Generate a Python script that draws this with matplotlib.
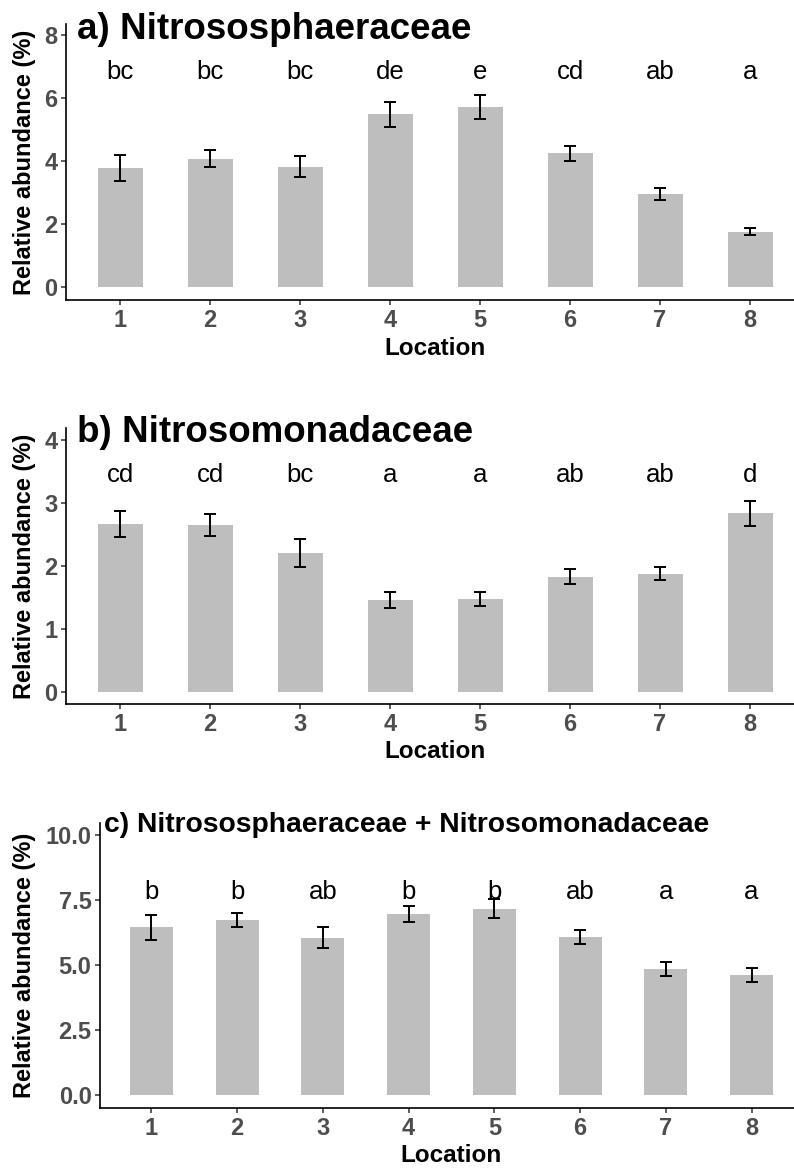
import numpy as np
import matplotlib
matplotlib.use('Agg')
import matplotlib.pyplot as plt

plt.rcParams['font.family'] = ['Liberation Sans', 'DejaVu Sans']

locations = [1, 2, 3, 4, 5, 6, 7, 8]

# a) Nitrososphaeraceae
mean_a = [3.79, 4.08, 3.82, 5.49, 5.72, 4.24, 2.95, 1.76]
se_a = [0.41, 0.28, 0.33, 0.40, 0.38, 0.25, 0.20, 0.12]
letters_a = ['bc', 'bc', 'bc', 'de', 'e', 'cd', 'ab', 'a']

# b) Nitrosomonadaceae
mean_b = [2.67, 2.65, 2.21, 1.46, 1.48, 1.83, 1.88, 2.84]
se_b = [0.21, 0.17, 0.22, 0.13, 0.11, 0.12, 0.10, 0.20]
letters_b = ['cd', 'cd', 'bc', 'a', 'a', 'ab', 'ab', 'd']

# c) sum of both
mean_c = [6.47, 6.73, 6.06, 6.96, 7.18, 6.10, 4.86, 4.63]
se_c = [0.48, 0.27, 0.40, 0.31, 0.37, 0.27, 0.27, 0.27]
letters_c = ['b', 'b', 'ab', 'b', 'b', 'ab', 'a', 'a']

W, H = 794, 1168
fig = plt.figure(figsize=(W/100, H/100), dpi=100)

def px(x, y):
    # pixel position (from top left) -> figure fraction
    return x/W, 1 - y/H

def panel(box, mean, se, letters, ylim, yticks, yfmt, letter_y,
          title, title_xy, title_size, ylab_x, xlab_y):
    left, top, right, bottom = box
    ax = fig.add_axes([left/W, 1 - bottom/H, (right-left)/W, (bottom-top)/H])
    x = np.array(locations)
    ax.bar(x, mean, width=0.5, color='#bebebe', zorder=1)
    ax.errorbar(x, mean, yerr=se, fmt='none', ecolor='black',
                elinewidth=1.4, capsize=4.5, capthick=1.4, zorder=2)
    for xi, lab in zip(x, letters):
        ax.text(xi, letter_y, lab, ha='center', va='baseline', fontsize=18.5)
    ax.set_xlim(0.4, 8.6)
    ax.set_ylim(*ylim)
    ax.set_xticks(x)
    ax.set_yticks(yticks)
    ax.set_yticklabels([yfmt % v for v in yticks])
    for s in ['top', 'right']:
        ax.spines[s].set_visible(False)
    for s in ['left', 'bottom']:
        ax.spines[s].set_linewidth(1.2)
    ax.tick_params(length=3.6, width=1.1, color='#333333',
                   labelcolor='#4d4d4d', labelsize=17)
    ax.tick_params(axis='x', pad=3)
    ax.tick_params(axis='y', pad=2.5)
    for t in ax.get_xticklabels() + ax.get_yticklabels():
        t.set_fontweight('bold')
    fig.text(*px(*title_xy), title, fontsize=title_size, fontweight='bold',
             ha='left', va='baseline')
    fig.text(*px(ylab_x, (top + bottom)/2), 'Relative abundance (%)',
             rotation=90, fontsize=17, fontweight='bold', ha='center', va='center')
    fig.text(*px((left + right)/2, xlab_y), 'Location', fontsize=17.5,
             fontweight='bold', ha='center', va='center')
    return ax

panel((66, 24, 804, 300), mean_a, se_a, letters_a, (-0.41, 8.35),
      [0, 2, 4, 6, 8], '%d', 6.62,
      'a) Nitrososphaeraceae', (77, 39), 26.5, 25, 349)

panel((66, 428, 804, 704), mean_b, se_b, letters_b, (-0.185, 4.19),
      [0, 1, 2, 3, 4], '%d', 3.34,
      'b) Nitrosomonadaceae', (77, 442), 26.5, 25, 752)

panel((100, 823, 803, 1108), mean_c, se_c, letters_c, (-0.5, 10.48),
      [0, 2.5, 5, 7.5, 10], '%.1f', 7.57,
      'c) Nitrososphaeraceae + Nitrosomonadaceae', (104, 832), 20.3, 25, 1156)

plt.savefig('out.png', dpi=100)
